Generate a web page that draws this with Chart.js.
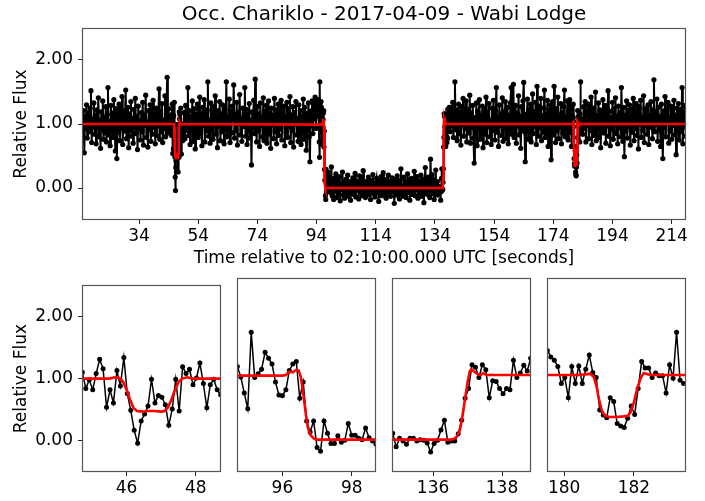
<!DOCTYPE html>
<html>
<head>
<meta charset="utf-8">
<script src="https://cdn.jsdelivr.net/npm/chart.js@4.4.1/dist/chart.umd.min.js"></script>
<style>
  html, body { margin: 0; padding: 0; background: #fff; }
  #wrap { position: relative; width: 705px; height: 501px; overflow: hidden; background: #fff; }
  #wrap canvas { position: absolute; }
</style>
</head>
<body>
<div id="wrap">
  <canvas id="cTop" width="705" height="270" style="left:0;top:0"></canvas>
  <canvas id="cP1" width="229" height="231" style="left:0;top:270px"></canvas>
  <canvas id="cP2" width="159" height="231" style="left:227px;top:270px"></canvas>
  <canvas id="cP3" width="159" height="231" style="left:382px;top:270px"></canvas>
  <canvas id="cP4" width="159" height="231" style="left:537px;top:270px"></canvas>
</div>
<script>
// ---- Light curve: relative flux, coarse sampling (0.25 s) between the zoom windows ----
const segAStart = 14.75;
const segA = [
  1.05, 0.82, 1.21, 0.55, 1.12, 0.93, 1.30, 0.78, 1.02, 1.18,
  0.88, 1.25, 1.52, 0.71, 1.08, 0.95, 1.33, 0.84, 1.14, 0.69,
  1.22, 0.97, 1.41, 0.80, 1.06, 0.62, 1.19, 0.91, 1.36, 0.76,
  1.10, 0.86, 1.27, 0.72, 1.15, 1.57, 0.83, 1.04, 0.66, 1.29,
  0.92, 1.17, 0.79, 1.38, 0.99, 0.58, 1.24, 0.46, 1.11, 0.87,
  1.31, 0.74, 1.07, 0.94, 1.43, 0.68, 1.20, 0.89, 1.13, 1.53,
  0.77, 1.01, 1.26, 0.63, 1.16, 0.90, 1.35, 0.81, 1.09, 0.70,
  1.23, 0.96, 1.40, 0.85, 1.12, 0.60, 1.28, 0.93, 1.05, 0.75,
  1.18, 0.88, 1.34, 0.67, 1.14, 0.98, 1.45, 0.79, 1.03, 0.64,
  1.21, 0.91, 1.30, 0.73, 1.08, 0.84, 1.37, 0.95, 1.16, 0.69,
  1.25, 0.82, 1.10, 0.97, 1.55, 0.76, 1.19, 0.88, 1.32, 0.71,
  1.06, 0.93, 1.44, 0.80, 1.15, 1.73, 0.86, 1.24, 0.90, 1.12
];
const segBStart = 49.0;
const segB = [
  0.95, 1.18, 0.77, 1.29, 0.90, 1.08, 1.57, 0.82, 1.21, 0.68,
  1.12, 0.94, 1.36, 0.73, 1.04, 1.24, 0.61, 1.15, 0.87, 1.31,
  0.79, 1.09, 1.42, 0.85, 1.17, 0.66, 1.26, 0.98, 1.38, 0.72,
  1.13, 0.89, 1.22, 1.66, 0.81, 1.06, 0.70, 1.33, 0.93, 1.19,
  0.76, 1.27, 1.02, 1.44, 0.84, 1.10, 0.63, 1.21, 0.97, 1.35,
  0.74, 1.16, 0.88, 1.30, 1.05, 0.69, 1.24, 0.92, 1.66, 0.80,
  1.11, 0.95, 1.39, 0.71, 1.20, 0.86, 1.28, 1.07, 1.61, 0.78,
  1.14, 0.90, 1.34, 0.67, 1.18, 1.01, 1.46, 0.83, 1.09, 0.73,
  1.25, 0.96, 1.12, 1.57, 0.81, 1.23, 0.68, 1.15, 0.91, 1.32,
  0.78, 1.06, 0.36, 1.19, 0.94, 1.37, 0.85, 1.70, 1.02, 0.72,
  1.27, 0.89, 1.16, 0.65, 1.33, 0.97, 1.10, 0.80, 1.41, 0.74,
  1.20, 0.93, 1.29, 0.70, 1.08, 1.36, 0.84, 1.17, 0.62, 1.25,
  0.99, 1.13, 0.77, 1.40, 0.88, 1.22, 0.69, 1.05, 1.31, 0.82,
  1.15, 0.92, 1.37, 0.75, 1.19, 1.03, 1.28, 0.66, 1.11, 0.87,
  1.34, 0.79, 1.24, 0.96, 1.43, 0.71, 1.14, 0.90, 1.27, 0.64,
  1.18, 1.00, 1.35, 0.83, 1.09, 0.73, 1.30, 0.94, 1.21, 0.68,
  1.12, 0.87, 1.39, 0.76, 1.26, 1.04, 0.59, 1.17, 0.91, 1.33,
  0.80, 0.41, 1.20, 0.97, 1.36, 0.85, 1.29, 1.08, 1.42, 0.93,
  1.31, 1.12, 1.38
];
const segCStart = 99.0;
const segC = [
  0.33, -0.12, 0.08, -0.18, 0.15, -0.05, 0.22, -0.15, 0.04, 0.12,
  -0.09, 0.18, -0.20, 0.06, -0.02, 0.25, -0.11, 0.09, -0.16, 0.03,
  0.14, -0.07, 0.20, -0.13, 0.01, 0.10, -0.19, 0.07, -0.04, 0.16,
  -0.10, 0.05, 0.23, -0.14, 0.11, -0.03, 0.08, -0.17, 0.19, -0.06,
  0.02, 0.13, -0.12, 0.27, -0.08, 0.06, -0.15, 0.10, 0.00, -0.11,
  0.17, -0.05, 0.09, -0.18, 0.12, -0.02, 0.21, -0.09, 0.04, -0.14,
  0.08, 0.15, -0.07, 0.03, -0.21, 0.11, -0.04, 0.18, -0.12, 0.06,
  0.24, -0.10, 0.01, 0.13, -0.16, 0.07, -0.03, 0.20, -0.08, 0.10,
  -0.13, 0.05, 0.16, -0.06, 0.09, -0.24, 0.02, 0.14, -0.11, 0.19,
  -0.04, 0.08, -0.17, 0.12, 0.30, -0.09, 0.04, -0.13, 0.17, -0.02,
  0.10, -0.15, 0.06, 0.22, -0.07, 0.13, -0.19, 0.03, 0.15, -0.10,
  0.07, -0.05, 0.26, -0.12, 0.09, -0.03, 0.18, -0.16, 0.11, 0.01,
  -0.08, 0.20, -0.13, 0.05, 0.14, -0.23, 0.08, 0.32, -0.06, 0.12,
  -0.10, 0.17, 0.03, -0.15, 0.45, -0.04, 0.21, -0.09, 0.13, -0.18,
  0.06, 0.28, -0.07
];
const segDStart = 139.0;
const segD = [
  1.15, 0.88, 1.26, 0.97, 1.34, 0.79, 1.12, 1.66, 0.91, 1.22,
  0.74, 1.08, 1.31, 0.85, 1.19, 0.67, 1.27, 0.99, 1.40, 0.81,
  1.13, 0.93, 1.36, 0.72, 1.05, 1.23, 0.86, 1.45, 0.70, 1.17,
  0.95, 1.29, 0.78, 0.39, 1.10, 0.89, 1.33, 0.66, 1.20, 1.02,
  1.38, 0.76, 1.14, 0.92, 1.28, 0.63, 1.09, 1.24, 0.84, 1.42,
  0.71, 1.18, 0.96, 1.32, 0.80, 1.06, 0.68, 1.25, 0.90, 1.37,
  1.03, 0.75, 1.21, 1.57, 0.87, 1.11, 0.65, 1.30, 0.98, 1.16,
  0.82, 1.41, 0.73, 1.19, 0.94, 1.35, 0.77, 1.08, 1.26, 0.69,
  1.14, 0.91, 1.33, 1.57, 0.84, 1.20, 1.62, 0.79, 1.05, 1.29,
  0.70, 1.17, 0.97, 1.44, 0.83, 1.12, 0.62, 1.27, 0.93, 1.36,
  1.65, 0.88, 0.41, 1.15, 1.01, 1.39, 0.76, 1.23, 0.90, 1.31,
  0.72, 1.10, 1.47, 0.85, 1.19, 0.96, 1.34, 0.68, 1.59, 1.06,
  0.81, 1.28, 0.94, 1.40, 0.74, 1.13, 0.87, 1.25, 1.53, 0.79,
  1.16, 0.92, 1.37, 0.65, 1.22, 0.99, 1.30, 0.44, 1.09, 1.35,
  0.83, 1.59, 1.02, 0.71, 1.24, 0.89, 1.42, 0.77, 1.14, 0.95,
  1.32, 0.69, 1.18, 0.86, 1.27, 1.53, 0.80, 1.11, 0.93, 1.36,
  0.75, 1.21
];
const segEStart = 183.75;
const segE = [
  1.08, 0.84, 1.27, 0.93, 1.35, 0.72, 1.16, 0.98, 1.31, 0.77,
  1.19, 0.90, 1.42, 0.68, 1.11, 1.25, 0.82, 1.04, 1.50, 0.74,
  1.13, 0.95, 1.33, 0.79, 1.22, 0.63, 1.17, 0.91, 1.38, 0.86,
  1.07, 1.29, 0.70, 1.15, 0.97, 1.52, 0.81, 1.20, 0.66, 1.10,
  0.92, 1.34, 0.76, 1.24, 1.01, 1.41, 0.85, 1.12, 0.69, 1.28,
  0.94, 1.18, 0.80, 1.57, 1.06, 0.73, 1.26, 0.49, 1.14, 0.89,
  1.36, 0.78, 1.21, 0.96, 1.30, 0.67, 1.09, 1.23, 0.87, 1.40,
  0.74, 1.15, 0.93, 1.32, 0.82, 1.19, 0.61, 1.27, 1.00, 1.37,
  0.79, 1.11, 0.90, 1.44, 0.71, 1.24, 0.97, 1.16, 0.84, 1.30,
  0.68, 1.13, 0.95, 1.35, 1.04, 0.77, 1.22, 1.69, 0.88, 1.18,
  0.99, 1.39, 0.73, 1.26, 0.91, 1.12, 0.65, 1.31, 0.86, 0.46,
  1.20, 0.94, 1.43, 0.80, 1.17, 1.02, 1.34, 0.70, 1.10, 0.89,
  1.28, 0.76, 1.21, 0.98, 1.37, 0.83, 1.14, 0.52, 1.25, 0.92,
  1.32, 0.75, 1.09, 1.23, 0.88, 1.57, 0.69, 1.18, 0.96, 1.29,
  0.81
];

// ---- Full-rate samples (0.1 s) around the four events ----
const win1Start = 44.72;
const win1 = [
  1.10, 0.84, 0.98, 0.82, 1.08, 1.31, 1.16, 0.54, 0.82, 0.61,
  1.13, 0.88, 1.34, 0.76, 0.49, 0.17, -0.04, 0.32, 0.43, 0.56,
  0.99, 0.61, 0.73, 0.70, 0.58, 0.25, 0.51, 0.99, 0.48, 1.19,
  1.08, 1.15, 0.90, 1.01, 1.25, 0.92, 0.53, 0.90, 0.99, 0.82,
  0.74
];
const win2Start = 94.70;
const win2 = [
  1.13, 0.97, 0.72, 0.48, 1.66, 0.96, 1.02, 1.09, 1.35, 1.26,
  1.17, 0.89, 0.69, 0.68, 0.77, 1.07, 1.17, 1.21, 0.64, 0.89,
  0.29, 0.12, 0.29, -0.12, -0.18, 0.29, 0.10, -0.06, -0.06, 0.06,
  -0.04, -0.01, 0.25, 0.07, 0.07, 0.02, 0.00, 0.18, 0.03, -0.02,
  -0.07
];
const win3Start = 134.83;
const win3 = [
  0.10, -0.11, 0.02, -0.02, -0.07, 0.02, 0.02, -0.02, 0.00, -0.01,
  -0.05, -0.19, -0.06, -0.01, 0.15, 0.30, -0.04, -0.02, -0.02, 0.09,
  0.30, 0.64, 0.79, 1.16, 1.12, 0.96, 1.16, 1.08, 0.65, 0.91,
  0.90, 0.79, 0.71, 0.79, 0.77, 1.23, 0.96, 1.03, 1.15, 1.06,
  1.26
];
const win4Start = 179.52;
const win4 = [
  1.38, 1.28, 1.23, 1.13, 0.87, 0.96, 0.65, 1.13, 0.87, 1.14,
  0.87, 1.09, 1.31, 1.04, 0.96, 0.46, 0.38, 0.34, 0.65, 0.59,
  0.25, 0.21, 0.19, 0.33, 0.52, 0.39, 0.79, 1.21, 1.11, 1.11,
  0.96, 1.03, 0.99, 0.99, 0.72, 1.16, 0.95, 1.66, 0.92, 0.87,
  0.86
];

// ---- Fitted occultation model (time, flux) ----
const modelTime = [
  14.73, 45.5, 45.65, 45.8, 45.9, 46.0, 46.1, 46.2, 46.3, 46.5, 46.6, 46.8, 47.0, 47.1,
  47.2, 47.3, 47.4, 47.5, 47.6, 47.75, 47.9, 48.1,
  95.9, 96.0, 96.1, 96.2, 96.3, 96.4, 96.47, 96.53, 96.6, 96.67, 96.73, 96.8, 96.9, 97.0,
  136.5, 136.6, 136.7, 136.78, 136.85, 136.92, 137.0, 137.06, 137.11, 137.2, 137.3,
  137.38, 137.45, 137.55,
  180.4, 180.6, 180.75, 180.85, 180.93, 181.0, 181.08, 181.17, 181.3, 181.5, 181.7,
  181.82, 181.9, 182.0, 182.1, 182.2, 182.28, 182.4, 182.55, 218.83
];
const modelFlux = [
  1.00, 1.00, 1.02, 1.01, 0.95, 0.82, 0.66, 0.53, 0.48, 0.47, 0.48, 0.48, 0.47, 0.48,
  0.54, 0.67, 0.82, 0.94, 1.00, 1.02, 1.00, 1.00,
  0.99, 0.99, 1.00, 1.05, 1.04, 1.08, 1.07, 0.97, 0.72, 0.42, 0.20, 0.08, 0.02, 0.00,
  0.00, 0.01, 0.05, 0.15, 0.35, 0.60, 0.88, 1.05, 1.09, 1.05, 1.01,
  1.00, 1.03, 1.00,
  1.00, 1.01, 1.02, 0.97, 0.82, 0.62, 0.45, 0.37, 0.35, 0.35, 0.36,
  0.37, 0.42, 0.58, 0.80, 0.96, 1.03, 1.01, 1.00, 1.00
];

// ---- Axis ticks ----
const timeTicks = [34, 54, 74, 94, 114, 134, 154, 174, 194, 214];
const fluxTicks = [0, 1, 2];
const win1Ticks = [46, 48];
const win2Ticks = [96, 98];
const win3Ticks = [136, 138];
const win4Ticks = [180, 182];

const titleText = 'Occ. Chariklo - 2017-04-09 - Wabi Lodge';
const xTitleText = 'Time relative to 02:10:00.000 UTC [seconds]';
const yTitleText = 'Relative Flux';

// ---- helpers ----
function sampled(t0, step, vals) {
  return vals.map((v, i) => ({ x: +(t0 + step * i).toFixed(3), y: v }));
}
const win1Pts = sampled(win1Start, 0.1, win1);
const win2Pts = sampled(win2Start, 0.1, win2);
const win3Pts = sampled(win3Start, 0.1, win3);
const win4Pts = sampled(win4Start, 0.1, win4);
const lightCurve = [].concat(
  sampled(segAStart, 0.25, segA), win1Pts,
  sampled(segBStart, 0.25, segB), win2Pts,
  sampled(segCStart, 0.25, segC), win3Pts,
  sampled(segDStart, 0.25, segD), win4Pts,
  sampled(segEStart, 0.25, segE)
);
const modelPts = modelTime.map((t, i) => ({ x: t, y: modelFlux[i] }));

Chart.defaults.font.family = "'DejaVu Sans', sans-serif";
Chart.defaults.color = '#000';

const FS = 17;

// axes frame on all four sides
const framePlugin = {
  id: 'frame',
  afterDatasetsDraw(chart) {
    const a = chart.chartArea, ctx = chart.ctx;
    ctx.save();
    ctx.strokeStyle = '#555';
    ctx.lineWidth = 1.2;
    ctx.strokeRect(Math.round(a.left) + 0.5, Math.round(a.top) + 0.5,
      Math.round(a.right - a.left) - 1, Math.round(a.bottom - a.top) - 1);
    ctx.restore();
  }
};

function fixedTicks(list) {
  return scale => { scale.ticks = list.map(v => ({ value: v })); };
}

function makeChart(id, opts) {
  const datasets = [
    { data: modelPts, borderColor: '#ff0000', borderWidth: 2.6, pointRadius: 0,
      tension: 0, order: 0, clip: opts.clip },
    { data: opts.points, borderColor: '#000', borderWidth: opts.lw, pointRadius: opts.pr,
      pointBackgroundColor: '#000', pointBorderWidth: 0, tension: 0, order: 1, clip: opts.clip }
  ];
  const yScale = {
    display: opts.showY,
    min: -0.5, max: 2.5,
    afterBuildTicks: fixedTicks(fluxTicks),
    ticks: { font: { size: FS }, color: '#000', padding: 5, callback: v => v.toFixed(2) },
    grid: { drawOnChartArea: false, drawTicks: true, tickLength: 4, color: '#222', lineWidth: 1 },
    border: { display: false },
    title: { display: opts.showY, text: yTitleText, color: '#000', font: { size: FS },
      padding: { top: 11, bottom: 0 } }
  };
  if (opts.showY) yScale.afterFit = s => { s.width = 82; };
  const cfg = {
    type: 'line',
    data: { datasets },
    options: {
      responsive: false,
      animation: false,
      events: [],
      parsing: false,
      normalized: true,
      layout: { padding: opts.padding },
      plugins: {
        legend: { display: false },
        tooltip: { enabled: false },
        title: opts.title ? {
          display: true, text: opts.title, color: '#000', fullSize: false,
          font: { size: 20, weight: 'normal' }, padding: { top: 3, bottom: 1 }
        } : { display: false }
      },
      scales: {
        x: {
          type: 'linear', min: opts.xmin, max: opts.xmax,
          afterBuildTicks: fixedTicks(opts.xticks),
          afterFit: s => { s.height = opts.xh; },
          ticks: { font: { size: FS }, color: '#000', maxRotation: 0, autoSkip: false,
            padding: 2, callback: v => String(v) },
          grid: { drawOnChartArea: false, drawTicks: true, tickLength: 4, color: '#222', lineWidth: 1 },
          border: { display: false },
          title: opts.xTitle ? { display: true, text: opts.xTitle, color: '#000',
            font: { size: FS }, padding: { top: 0, bottom: 1 } } : { display: false }
        },
        y: yScale
      }
    },
    plugins: [framePlugin]
  };
  return new Chart(document.getElementById(id), cfg);
}

makeChart('cTop', {
  points: lightCurve, pr: 2.6, lw: 2.0, clip: undefined,
  xmin: 14.73, xmax: 218.83, xticks: timeTicks, xh: 50, showY: true,
  title: titleText, xTitle: xTitleText,
  padding: { left: 0, right: 19, top: 0, bottom: 0 }
});
makeChart('cP1', {
  points: win1Pts, pr: 2.5, lw: 1.5, clip: 0,
  xmin: 44.71, xmax: 48.73, xticks: win1Ticks, xh: 29, showY: true,
  padding: { left: 0, right: 8, top: 8, bottom: 0 }
});
makeChart('cP2', {
  points: win2Pts, pr: 2.5, lw: 1.5, clip: 0,
  xmin: 94.69, xmax: 98.70, xticks: win2Ticks, xh: 29, showY: false,
  padding: { left: 10, right: 10, top: 8, bottom: 0 }
});
makeChart('cP3', {
  points: win3Pts, pr: 2.5, lw: 1.5, clip: 0,
  xmin: 134.81, xmax: 138.84, xticks: win3Ticks, xh: 29, showY: false,
  padding: { left: 10, right: 10, top: 8, bottom: 0 }
});
makeChart('cP4', {
  points: win4Pts, pr: 2.5, lw: 1.5, clip: 0,
  xmin: 179.51, xmax: 183.49, xticks: win4Ticks, xh: 29, showY: false,
  padding: { left: 10, right: 10, top: 8, bottom: 0 }
});
</script>
</body>
</html>
